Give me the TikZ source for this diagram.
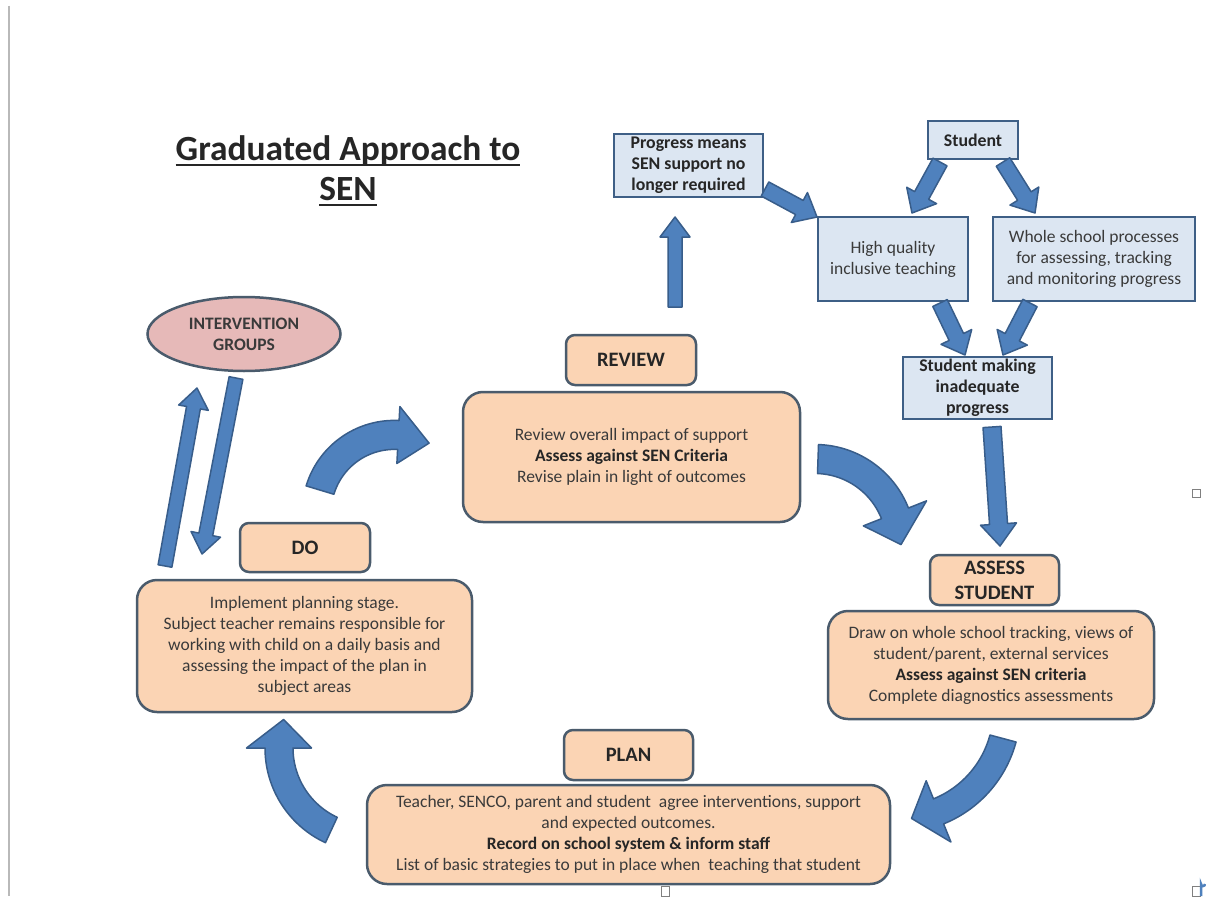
\documentclass[tikz,border=0pt]{standalone}
\usepackage{fontspec}
\setmainfont{Carlito}
\usetikzlibrary{calc,shapes.geometric}
\definecolor{obox}{HTML}{FBD4B4}
\definecolor{oline}{HTML}{4A5B6C}
\definecolor{bbox}{HTML}{DCE6F2}
\definecolor{bline}{HTML}{3E5F86}
\definecolor{afill}{HTML}{4F81BD}
\definecolor{aline}{HTML}{385D8A}
\definecolor{efill}{HTML}{E6B9B8}
\definecolor{txt}{HTML}{3A3A3A}
\newcommand\ulx[1]{\setbox0\hbox{#1}\rlap{\rule[-5pt]{\wd0}{2.4pt}}\box0}
\newcommand\barrow[5]{%
  \path ($(#2)!#5!(#1)$) coordinate (bbase);
  \draw[blk] ($(#1)!#3!90:(#2)$) -- ($(bbase)!#3!90:(#2)$) -- ($(bbase)!#4!90:(#2)$) -- (#2)
    -- ($(bbase)!#4!-90:(#2)$) -- ($(bbase)!#3!-90:(#2)$) -- ($(#1)!#3!-90:(#2)$) -- cycle;}
\newcommand\carrow[8]{%
  \pgfmathsetmacro\aT{#5+#8/#3*57.2958}
  \draw[blk] plot[domain=#4:#5, samples=40] ({#1+(#3+#6)*cos(\x)},{#2+(#3+#6)*sin(\x)})
    -- ({#1+(#3+#7)*cos(#5)},{#2+(#3+#7)*sin(#5)})
    -- ({#1+#3*cos(\aT)},{#2+#3*sin(\aT)})
    -- ({#1+(#3-#7)*cos(#5)},{#2+(#3-#7)*sin(#5)})
    -- plot[domain=#5:#4, samples=40] ({#1+(#3-#6)*cos(\x)},{#2+(#3-#6)*sin(\x)})
    -- cycle;}
\tikzset{
  stagebox/.style={draw=oline, fill=obox, line width=2.5pt, rounded corners=9pt, inner sep=0pt,
    font=\fontsize{20.5}{25}\selectfont\bfseries, text=black!85, align=center},
  bodybox/.style={draw=oline, fill=obox, line width=2.5pt, rounded corners=20pt, inner sep=0pt,
    font=\fontsize{17.5}{21}\selectfont, text=txt, align=center},
  bluebox/.style={draw=bline, fill=bbox, line width=2.5pt, inner sep=0pt,
    font=\fontsize{17.5}{21}\selectfont, text=txt, align=center},
  bluebold/.style={bluebox, font=\fontsize{17.8}{21}\selectfont\bfseries, text=black!85},
  blk/.style={fill=afill, draw=aline, line width=1.5pt, line join=round},
  marker/.style={draw=gray, line width=0.8pt, fill=white}
}
\begin{document}
\begin{tikzpicture}[x=1pt,y=-1pt]
\useasboundingbox (0,0) rectangle (1206,896);
\fill[white] (0,0) rectangle (1206,896);
\draw[gray!55, line width=1.5pt] (9,6) -- (9,896);

% title
\node[font=\fontsize{35.4}{40}\selectfont\bfseries, align=center, text=black!85] (title) at (348,171)
  {\ulx{Graduated Approach to}\\\ulx{SEN}};

% blue boxes
\node[bluebold, minimum width=149pt, minimum height=63pt] (prog) at (688.5,165.5)
  {Progress means\\SEN support no\\longer required};
\node[bluebold, minimum width=90pt, minimum height=38pt] (stud) at (973,140) {Student};
\node[bluebox, minimum width=150pt, minimum height=84pt] (hq) at (893,259)
  {High quality\\inclusive teaching};
\node[bluebox, minimum width=202pt, minimum height=84pt] (whole) at (1094,259)
  {Whole school processes\\for assessing, tracking\\and monitoring progress};
\node[bluebold, minimum width=149pt, minimum height=62pt] (sm) at (977.5,388)
  {Student making\\inadequate\\progress};

% stage boxes
\node[stagebox, minimum width=130pt, minimum height=50pt] (review) at (631,360) {REVIEW};
\node[bodybox, minimum width=337pt, minimum height=130pt] (reviewb) at (631.5,457)
  {Review overall impact of support\\\textbf{\color{black!85}Assess against SEN Criteria}\\Revise plain in light of outcomes};
\node[stagebox, minimum width=130pt, minimum height=49pt] (do) at (305,547.5) {DO};
\node[bodybox, minimum width=335pt, minimum height=132pt] (dob) at (304.5,646)
  {Implement planning stage.\\Subject teacher remains responsible for\\working with child on a daily basis and\\assessing the impact of the plan in\\subject areas};
\node[stagebox, minimum width=129pt, minimum height=50pt] (assess) at (994.5,580) {ASSESS\\STUDENT};
\node[bodybox, minimum width=326pt, minimum height=108pt] (assessb) at (991,665)
  {Draw on whole school tracking, views of\\student/parent, external services\\\textbf{\color{black!85}Assess against SEN criteria}\\Complete diagnostics assessments};
\node[stagebox, minimum width=129pt, minimum height=50pt] (plan) at (628.5,755) {PLAN};
\node[bodybox, minimum width=523pt, minimum height=99pt] (planb) at (628.5,834.5)
  {Teacher, SENCO, parent and student\ \ agree interventions, support\\and expected outcomes.\\\textbf{\color{black!85}Record on school system \& inform staff}\\List of basic strategies to put in place when\ \ teaching that student};

\node[ellipse, draw=oline, fill=efill, line width=2.5pt, minimum width=193pt, minimum height=74pt,
  inner sep=0pt, font=\fontsize{17.5}{21}\selectfont\bfseries, text=txt, align=center] (interv) at (244,334)
  {INTERVENTION\\GROUPS};

% straight block arrows
\coordinate (u1) at (675,307); \coordinate (u2) at (675,217);
\coordinate (p1) at (765,189); \coordinate (p2) at (817,217);
\coordinate (s1) at (940,162); \coordinate (s2) at (912,213);
\coordinate (s3) at (1003,162); \coordinate (s4) at (1035,213);
\coordinate (h1) at (940,303); \coordinate (h2) at (965,355);
\coordinate (w1) at (1030,303); \coordinate (w2) at (1003,355);
\coordinate (m1) at (992,427); \coordinate (m2) at (1000,546);
\coordinate (i1) at (165,566); \coordinate (i2) at (197,388);
\coordinate (i3) at (236,378); \coordinate (i4) at (202,554);
\barrow{u1}{u2}{7pt}{15pt}{20pt}
\barrow{p1}{p2}{8pt}{17pt}{20pt}
\barrow{s1}{s2}{8pt}{17pt}{20pt}
\barrow{s3}{s4}{8pt}{17pt}{20pt}
\barrow{h1}{h2}{8pt}{17pt}{20pt}
\barrow{w1}{w2}{8pt}{17pt}{20pt}
\barrow{m1}{m2}{9pt}{18pt}{22pt}
\barrow{i1}{i2}{7pt}{15pt}{20pt}
\barrow{i3}{i4}{7pt}{15pt}{20pt}

% curved block arrows
\carrow{815}{545}{86}{-88}{-21.6}{14.5}{34}{32}
\carrow{897.7}{710.3}{109}{15}{68}{13.5}{33}{28}
\carrow{369.4}{748}{90.4}{114.9}{180}{14}{32.5}{29}
\carrow{394.3}{512.5}{77.6}{-163.2}{-87}{14.5}{28.5}{32}

% small markers
\draw[marker] (1192,489) rectangle (1200,497);
\draw[marker] (661,886) rectangle (669,896);
\draw[marker] (1192,886) rectangle (1200,896);
\draw[afill, line width=2.5pt] (1201,896) -- (1201,884) arc[start angle=180, end angle=0, radius=2];
\end{tikzpicture}
\end{document}
